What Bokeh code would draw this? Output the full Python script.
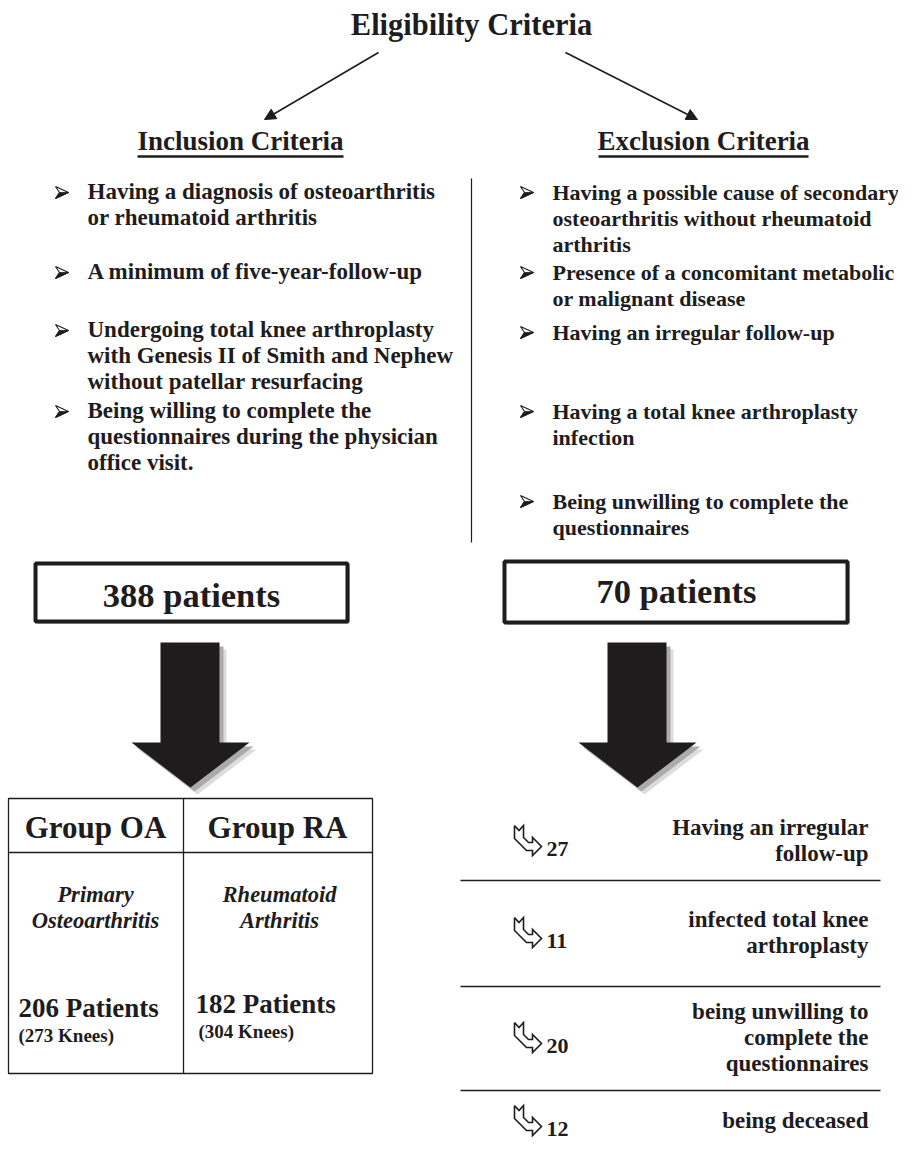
from bokeh.plotting import figure
from bokeh.models import Range1d, Arrow, NormalHead
from bokeh.embed import file_html
from bokeh.resources import INLINE
from bokeh.core.properties import value

# ---------------- data ----------------
title = "Eligibility Criteria"
headers = ["Inclusion Criteria", "Exclusion Criteria"]
inclusion_items = [
    ["Having a diagnosis of osteoarthritis", "or rheumatoid arthritis"],
    ["A minimum of five-year-follow-up"],
    ["Undergoing total knee arthroplasty", "with Genesis II of Smith and Nephew",
     "without patellar resurfacing"],
    ["Being willing to complete the", "questionnaires during the physician",
     "office visit."],
]
exclusion_items = [
    ["Having a possible cause of secondary", "osteoarthritis without rheumatoid",
     "arthritis"],
    ["Presence of a concomitant metabolic", "or malignant disease"],
    ["Having an irregular follow-up"],
    ["Having a total knee arthroplasty", "infection"],
    ["Being unwilling to complete the", "questionnaires"],
]
included_total = 388
excluded_total = 70
group_names = ["Group OA", "Group RA"]
group_desc = [["Primary", "Osteoarthritis"], ["Rheumatoid", "Arthritis"]]
group_patients = [206, 182]
group_knees = [273, 304]
exclusion_reasons = [
    ["Having an irregular", "follow-up"],
    ["infected total knee", "arthroplasty"],
    ["being unwilling to", "complete the", "questionnaires"],
    ["being deceased"],
]
exclusion_counts = [27, 11, 20, 12]

# ---------------- layout ----------------
FONT = "Liberation Serif"
INK = "#1e1c1d"
W, H = 898, 1145

p = figure(width=W, height=H, x_range=Range1d(0, W), y_range=Range1d(H, 0),
           output_backend="svg", toolbar_location=None, min_border=0,
           x_axis_location=None, y_axis_location=None)
p.grid.visible = False
p.outline_line_color = None
p.background_fill_color = "white"
p.border_fill_color = "white"


def txt(x, y, s, size, align="left", style="bold", font=FONT):
    # y is the wanted alphabetic baseline
    p.text(x=[x], y=[y - 0.34 * size], text=[s], text_font=value(font),
           text_font_size=f"{size}px", text_font_style=style, text_align=align,
           text_baseline="alphabetic", text_color=INK)


# title and the two arrows
txt(471, 35, title, 30.5, "center")
for (xs, ys, xe, ye) in [(378, 52, 264, 119), (565, 52, 697, 119)]:
    p.add_layout(Arrow(end=NormalHead(size=11, fill_color=INK, line_color=INK),
                       x_start=xs, y_start=ys, x_end=xe, y_end=ye,
                       line_width=1.6, line_color=INK))

# headers with underline
for cx, h in zip([240, 703], headers):
    txt(cx, 150, h, 27, "center")
p.segment(x0=[137, 598], y0=[156, 156], x1=[343, 808], y1=[156, 156],
          line_width=2.4, line_color=INK)

# bullet lists
inc_first = [199, 279, 337, 418]
exc_first = [199, 279, 339, 418, 508]
LS = 26
for items, firsts, bx, tx, fs in [(inclusion_items, inc_first, 55, 87, 23),
                                  (exclusion_items, exc_first, 520, 552, 22)]:
    for lines, y0 in zip(items, firsts):
        cy = y0 - 7
        p.patch([bx, bx + 13, bx, bx + 4], [cy - 6, cy, cy + 6, cy],
                fill_color="white", line_color=INK, line_width=1.1)
        p.patch([bx + 4, bx + 13, bx], [cy, cy, cy + 6], fill_color=INK,
                line_color=INK, line_width=0.8)
        for k, ln in enumerate(lines):
            txt(tx, y0 + k * LS, ln, fs)

# divider
p.segment(x0=[471], y0=[178], x1=[471], y1=[542], line_width=1.2, line_color=INK)

# count boxes
for (l, r, t, b, n, cx, by) in [(35, 347, 563, 621, included_total, 191, 606),
                                (504, 847, 561, 622, excluded_total, 676, 602)]:
    p.quad(left=[l + 2], right=[r + 2], top=[t + 2], bottom=[b + 2],
           fill_color="#9a9a9a", line_color=None)
    p.quad(left=[l], right=[r], top=[t], bottom=[b], fill_color="white",
           line_color=INK, line_width=4)
    txt(cx, by, f"{n} patients", 34.5, "center")


# big arrows with shadow
def big_arrow(cx, dx=0, dy=0, color=INK):
    xs = [cx - 30, cx + 29, cx + 29, cx + 59, cx, cx - 59, cx - 30]
    ys = [642, 642, 742, 742, 787, 742, 742]
    p.patch([x + dx for x in xs], [y + dy for y in ys], fill_color=color,
            line_color=None)


for cx in [190, 637]:
    big_arrow(cx, 7, 7, "#dcdcdc")
    big_arrow(cx, 4, 4, "#ababab")
    big_arrow(cx)

# group table
p.quad(left=[8], right=[372], top=[798], bottom=[1073], fill_color=None,
       line_color=INK, line_width=1.3)
p.segment(x0=[8, 183], y0=[852, 798], x1=[372, 183], y1=[852, 1073],
          line_color=INK, line_width=1.3)
gx = [95, 277]
for i in range(2):
    txt(gx[i], 838, group_names[i], 31, "center")
    for k, ln in enumerate(group_desc[i]):
        txt(gx[i] + (0 if i == 0 else 2), 902 + k * 26, ln, 22.5, "center",
            "bold italic")
pat_x = [18, 195]
pat_y = [1017, 1013]
for i in range(2):
    txt(pat_x[i], pat_y[i], f"{group_patients[i]} Patients", 27)
    txt(pat_x[i] + (0 if i == 0 else 3), pat_y[i] + 24,
        f"({group_knees[i]} Knees)", 19)

# excluded reasons list
row_c = [841, 933, 1038, 1121]
p.segment(x0=[460] * 3, y0=[880, 986, 1090], x1=[880] * 3, y1=[880, 986, 1090],
          line_color=INK, line_width=1.5)
shape_x = [0, 4.5, 9, 9, 14, 18, 18, 27, 18, 18, 12, 0, 0]
shape_y = [0, 5, 0, 12, 17, 17, 12, 21, 30, 25, 25, 13, 0]
for c, lines, n in zip(row_c, exclusion_reasons, exclusion_counts):
    first = c - (len(lines) - 1) * LS / 2 + 7
    for k, ln in enumerate(lines):
        txt(868, first + k * LS, ln, 23, "right")
    nb = c + 15
    top = nb - 31
    p.line([514 + sx for sx in shape_x], [top + sy for sy in shape_y],
           line_color=INK, line_width=1.6, line_join="miter")
    txt(546, nb, str(n), 22)

open("out.html", "w").write(file_html(p, INLINE))
